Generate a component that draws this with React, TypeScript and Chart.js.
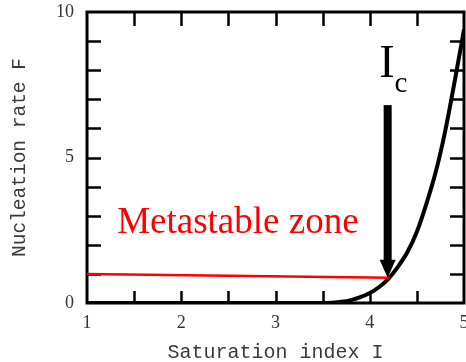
import React, { useEffect, useRef } from "react";
import { Chart, registerables } from "chart.js";

Chart.register(...registerables);

// Nucleation rate curve F(I)
const curveI = [1, 1.5, 2, 2.5, 3, 3.5, 3.6, 3.7, 3.8, 3.9, 4.0, 4.1, 4.2, 4.3, 4.4, 4.5, 4.6, 4.7, 4.8, 4.9, 5.0];
const curveF = [0, 0, 0, 0, 0, 0, 0.01, 0.04, 0.1, 0.2, 0.34, 0.55, 0.84, 1.25, 1.75, 2.45, 3.4, 4.5, 5.9, 7.6, 9.4];

// Metastable zone (red line)
const metaI = [1, 4.21];
const metaF = [1.0, 0.87];

// Axis ticks
const xLabelValues = [1, 2, 3, 4, 5];
const yLabelValues = [0, 5, 10];
const xMinorTicks = [1.5, 2, 2.5, 3, 3.5, 4, 4.5];
const yMinorTicks = [1, 2, 3, 4, 5, 6, 7, 8, 9];

// Annotations (data coordinates)
const arrowI = 4.19;
const arrowTopF = 6.8;
const arrowTipF = 0.87;
const icLabelI = 4.1;
const icLabelF = 7.77;
const icSubF = 7.25;
const metaLabelI = 1.32;
const metaLabelF = 2.4;
const metaLabelText = "Metastable zone";

const framePlugin = {
  id: "frame",
  beforeDatasetsDraw(chart: any) {
    const { ctx, chartArea } = chart;
    const xs = chart.scales.x;
    const ys = chart.scales.y;
    const { left, right, top, bottom } = chartArea;
    ctx.save();
    ctx.strokeStyle = "#000";
    ctx.lineWidth = 2.5;
    ctx.beginPath();
    for (const v of xMinorTicks) {
      const px = Math.round(xs.getPixelForValue(v)) + 0.5;
      ctx.moveTo(px, bottom);
      ctx.lineTo(px, bottom - 12);
      ctx.moveTo(px, top);
      ctx.lineTo(px, top + 14);
    }
    for (const v of yMinorTicks) {
      const py = Math.round(ys.getPixelForValue(v)) + 0.5;
      ctx.moveTo(left, py);
      ctx.lineTo(left + 14, py);
      ctx.moveTo(right, py);
      ctx.lineTo(right - 14, py);
    }
    ctx.stroke();
    ctx.lineWidth = 3;
    ctx.strokeRect(left, top, right - left, bottom - top);
    ctx.restore();
  },
  afterDatasetsDraw(chart: any) {
    const { ctx } = chart;
    const xs = chart.scales.x;
    const ys = chart.scales.y;
    ctx.save();
    // Metastable zone label
    ctx.fillStyle = "#ff0000";
    ctx.font = "37px 'Liberation Serif', 'Times New Roman', serif";
    ctx.textAlign = "left";
    ctx.textBaseline = "alphabetic";
    ctx.fillText(metaLabelText, xs.getPixelForValue(metaLabelI), ys.getPixelForValue(metaLabelF));

    // Arrow
    const ax = xs.getPixelForValue(arrowI);
    const aTop = ys.getPixelForValue(arrowTopF);
    const aTip = ys.getPixelForValue(arrowTipF);
    const headH = 18;
    const headW = 16;
    const shaftW = 8;
    ctx.fillStyle = "#000";
    ctx.fillRect(ax - shaftW / 2, aTop, shaftW, aTip - headH - aTop + 1);
    ctx.beginPath();
    ctx.moveTo(ax - headW / 2, aTip - headH);
    ctx.lineTo(ax + headW / 2, aTip - headH);
    ctx.lineTo(ax, aTip);
    ctx.closePath();
    ctx.fill();

    // I_c label
    ctx.font = "46px 'Liberation Serif', 'Times New Roman', serif";
    const ix = xs.getPixelForValue(icLabelI);
    ctx.fillText("I", ix, ys.getPixelForValue(icLabelF));
    const iw = ctx.measureText("I").width;
    ctx.font = "29px 'Liberation Serif', 'Times New Roman', serif";
    ctx.fillText("c", ix + iw, ys.getPixelForValue(icSubF));
    ctx.restore();
  },
};

export default function App() {
  const ref = useRef<HTMLCanvasElement | null>(null);

  useEffect(() => {
    document.body.style.margin = "0";
    document.body.style.overflow = "hidden";
    const canvas = ref.current;
    if (!canvas) return;
    const chart = new Chart(canvas, {
      type: "line",
      data: {
        datasets: [
          {
            label: "Metastable",
            data: metaI.map((x, i) => ({ x, y: metaF[i] })),
            borderColor: "#ff0000",
            borderWidth: 2.5,
            pointRadius: 0,
            fill: false,
          },
          {
            label: "F",
            data: curveI.map((x, i) => ({ x, y: curveF[i] })),
            borderColor: "#000",
            borderWidth: 4,
            pointRadius: 0,
            cubicInterpolationMode: "monotone",
            fill: false,
          },
        ],
      },
      options: {
        responsive: false,
        animation: false,
        devicePixelRatio: 1,
        layout: { padding: { left: 0, top: 12, right: 16, bottom: 0 } },
        plugins: {
          legend: { display: false },
          tooltip: { enabled: false },
        },
        scales: {
          x: {
            type: "linear",
            min: 1,
            max: 5,
            grid: { display: false, drawTicks: false },
            border: { display: false },
            afterBuildTicks: (scale: any) => {
              scale.ticks = xLabelValues.map((v) => ({ value: v }));
            },
            ticks: {
              autoSkip: false,
              maxRotation: 0,
              padding: 9,
              color: "#333",
              font: { family: "'Liberation Serif', serif", size: 18 },
              callback: (v: any) => String(v),
            },
            title: {
              display: true,
              text: "Saturation index I",
              color: "#3a3a3a",
              font: { family: "'Liberation Mono', monospace", size: 20 },
              padding: { top: 0, bottom: -3 },
            },
            afterFit: (scale: any) => {
              scale.height = 59;
              scale.paddingLeft = 0;
              scale.paddingRight = 0;
            },
          },
          y: {
            type: "linear",
            min: 0,
            max: 10,
            grid: { display: false, drawTicks: false },
            border: { display: false },
            afterBuildTicks: (scale: any) => {
              scale.ticks = yLabelValues.map((v) => ({ value: v }));
            },
            ticks: {
              autoSkip: false,
              padding: 13,
              color: "#333",
              font: { family: "'Liberation Serif', serif", size: 18 },
              callback: (v: any) => String(v),
            },
            title: {
              display: true,
              text: "Nucleation rate F",
              color: "#3a3a3a",
              font: { family: "'Liberation Mono', monospace", size: 19.5 },
              padding: { top: 8, bottom: 0 },
            },
            afterFit: (scale: any) => {
              scale.width = 87;
              scale.paddingTop = 0;
              scale.paddingBottom = 0;
            },
          },
        },
      },
      plugins: [framePlugin],
    } as any);
    return () => chart.destroy();
  }, []);

  return (
    <div style={{ width: 466, height: 362, overflow: "hidden", position: "relative" }}>
      <canvas ref={ref} width={480} height={362} style={{ display: "block" }} />
    </div>
  );
}
